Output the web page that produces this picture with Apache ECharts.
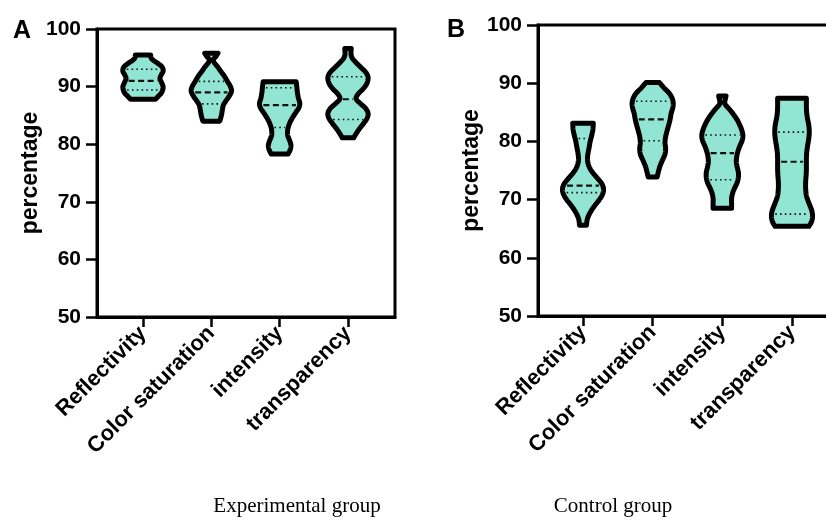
<!DOCTYPE html>
<html>
<head>
<meta charset="utf-8">
<script src="https://cdn.jsdelivr.net/npm/echarts@6/dist/echarts.min.js"></script>
<style>
html,body{margin:0;padding:0;background:#fff;}
#chart{width:826px;height:530px;}
</style>
</head>
<body>
<div id="chart"></div>
<script>
// ---- data ----
const categories = ['Reflectivity', 'Color saturation', 'intensity', 'transparency'];
const yMin = 50, yMax = 100, yStep = 10;

// Violin outlines: [value, relative density (max = 1)], from min to max
const expReflectivity = [[87.8,0.62],[88.4,0.78],[89.0,0.93],[89.9,1.0],[90.7,0.92],[91.4,0.84],[92.0,0.9],[92.7,1.0],[93.4,0.95],[94.0,0.75],[94.6,0.5],[95.0,0.4],[95.5,0.38]];
const expColorSaturation = [[84.0,0.42],[85.0,0.5],[86.0,0.55],[86.8,0.6],[87.5,0.72],[88.3,0.88],[89.2,1.0],[90.0,0.95],[90.9,0.8],[91.8,0.65],[92.6,0.48],[93.4,0.32],[94.2,0.14],[94.7,0.1],[95.2,0.22],[95.8,0.33]];
const expIntensity = [[78.3,0.42],[79.0,0.52],[79.8,0.56],[80.6,0.5],[81.5,0.4],[82.5,0.4],[83.5,0.48],[84.5,0.62],[85.5,0.8],[86.3,0.95],[87.1,1.0],[88.0,0.93],[89.0,0.88],[90.0,0.85],[90.85,0.82]];
const expTransparency = [[81.1,0.28],[81.8,0.4],[82.6,0.55],[83.5,0.75],[84.4,0.93],[85.3,1.0],[86.2,0.88],[87.1,0.6],[87.9,0.4],[88.7,0.5],[89.6,0.75],[90.5,0.93],[91.5,1.0],[92.4,0.9],[93.3,0.65],[94.1,0.42],[94.9,0.22],[95.6,0.15],[96.6,0.16]];

const ctrlReflectivity = [[65.6,0.17],[66.5,0.2],[67.3,0.28],[68.2,0.42],[69.1,0.6],[70.0,0.8],[70.9,0.95],[71.8,1.0],[72.7,0.92],[73.6,0.72],[74.5,0.5],[75.4,0.33],[76.3,0.24],[77.2,0.22],[78.1,0.25],[79.0,0.3],[80.0,0.35],[81.0,0.42],[82.0,0.48],[83.1,0.5]];
const ctrlColorSaturation = [[73.9,0.22],[74.8,0.28],[75.8,0.36],[76.8,0.48],[77.8,0.6],[78.8,0.63],[79.8,0.6],[80.8,0.63],[81.8,0.7],[82.8,0.78],[83.8,0.85],[84.8,0.9],[85.8,0.98],[86.6,1.0],[87.4,0.95],[88.3,0.8],[89.2,0.55],[90.1,0.33]];
const ctrlIntensity = [[68.5,0.45],[69.3,0.45],[70.2,0.45],[71.1,0.5],[72.0,0.6],[72.9,0.72],[73.8,0.78],[74.7,0.78],[75.6,0.72],[76.5,0.68],[77.4,0.7],[78.3,0.76],[79.2,0.85],[80.1,0.96],[81.0,1.0],[81.9,0.95],[82.8,0.85],[83.7,0.72],[84.6,0.55],[85.5,0.35],[86.3,0.15],[86.8,0.12],[87.8,0.18]];
const ctrlTransparency = [[65.4,0.82],[66.2,0.95],[67.1,1.0],[68.0,0.97],[68.9,0.88],[69.8,0.78],[70.7,0.7],[71.6,0.67],[72.5,0.66],[73.4,0.67],[74.3,0.69],[75.2,0.7],[76.1,0.7],[77.0,0.7],[77.9,0.71],[78.8,0.74],[79.7,0.78],[80.6,0.82],[81.5,0.84],[82.4,0.83],[83.3,0.79],[84.2,0.74],[85.1,0.71],[86.0,0.7],[86.8,0.7],[87.4,0.7]];

// quartiles and medians
const expMedian = [91.0, 89.0, 86.8, 87.8];
const expQ1 = [89.4, 87.0, 82.9, 84.3];
const expQ3 = [93.0, 90.9, 89.8, 91.7];
const ctrlMedian = [72.4, 83.8, 78.0, 76.5];
const ctrlQ1 = [71.2, 80.1, 73.4, 67.5];
const ctrlQ3 = [80.5, 86.9, 81.1, 81.6];

const expProfiles = [expReflectivity, expColorSaturation, expIntensity, expTransparency];
const ctrlProfiles = [ctrlReflectivity, ctrlColorSaturation, ctrlIntensity, ctrlTransparency];

// ---- rendering ----
const FILL = '#93E5D3';
const MAX_HALF = 0.295; // half width of widest part, in category units

function densityAt(prof, v) {
  if (v <= prof[0][0]) return prof[0][1];
  for (let i = 1; i < prof.length; i++) {
    if (v <= prof[i][0]) {
      const a = prof[i - 1], b = prof[i];
      const t = (v - a[0]) / (b[0] - a[0]);
      return a[1] + t * (b[1] - a[1]);
    }
  }
  return prof[prof.length - 1][1];
}

function catmull(pts, steps) {
  const out = [];
  const n = pts.length;
  for (let i = 0; i < n - 1; i++) {
    const p0 = pts[Math.max(0, i - 1)], p1 = pts[i], p2 = pts[i + 1], p3 = pts[Math.min(n - 1, i + 2)];
    for (let s = 0; s < steps; s++) {
      const t = s / steps, t2 = t * t, t3 = t2 * t;
      const x = 0.5 * ((2 * p1[0]) + (-p0[0] + p2[0]) * t + (2 * p0[0] - 5 * p1[0] + 4 * p2[0] - p3[0]) * t2 + (-p0[0] + 3 * p1[0] - 3 * p2[0] + p3[0]) * t3);
      const y = 0.5 * ((2 * p1[1]) + (-p0[1] + p2[1]) * t + (2 * p0[1] - 5 * p1[1] + 4 * p2[1] - p3[1]) * t2 + (-p0[1] + 3 * p1[1] - 3 * p2[1] + p3[1]) * t3);
      out.push([x, y]);
    }
  }
  out.push(pts[n - 1]);
  return out;
}

function makeRenderer(profiles, medians, q1s, q3s) {
  return function (params, api) {
    const idx = api.value(0);
    const prof = profiles[idx];
    const right = prof.map(p => api.coord([idx + p[1] * MAX_HALF, p[0]]));
    const left = prof.map(p => api.coord([idx - p[1] * MAX_HALF, p[0]]));
    const r = catmull(right, 8);
    const l = catmull(left, 8).reverse();
    const pts = r.concat(l);
    const children = [{
      type: 'polygon',
      shape: { points: pts },
      style: { fill: FILL, stroke: '#000', lineWidth: 5, lineJoin: 'round' }
    }];
    const lines = [
      { v: q1s[idx], dash: [1.6, 3.2], w: 1.6 },
      { v: q3s[idx], dash: [1.6, 3.2], w: 1.6 },
      { v: medians[idx], dash: [6, 3.5], w: 2.2 }
    ];
    const c0 = api.coord([idx, 0])[0];
    lines.forEach(L => {
      const d = densityAt(prof, L.v);
      const px = api.coord([idx + d * MAX_HALF, L.v]);
      const half = Math.max(0, px[0] - c0 - 3.5);
      children.push({
        type: 'line',
        shape: { x1: c0 - half, y1: px[1], x2: c0 + half, y2: px[1] },
        style: { stroke: '#111', lineWidth: L.w, lineDash: L.dash }
      });
    });
    return { type: 'group', children: children };
  };
}

const FONT = 'Liberation Sans, Arial, sans-serif';

function xAxisCfg(gridIndex, min, max) {
  return {
    type: 'value', gridIndex: gridIndex, min: min, max: max,
    axisLine: { show: true, onZero: false, lineStyle: { color: '#000', width: 3 } },
    axisTick: { show: true, length: 10, customValues: [0, 1, 2, 3], lineStyle: { color: '#000', width: 2.5 } },
    axisLabel: {
      customValues: [0, 1, 2, 3], rotate: 45, margin: 13,
      formatter: v => categories[Math.round(v)],
      color: '#000', fontSize: 22, fontWeight: 'bold', fontFamily: FONT
    },
    splitLine: { show: false }
  };
}

function yAxisCfg(gridIndex) {
  return {
    type: 'value', gridIndex: gridIndex, min: yMin, max: yMax, interval: yStep,
    name: 'percentage', nameLocation: 'middle', nameGap: 54,
    nameTextStyle: { color: '#000', fontSize: 23, fontWeight: 'bold', fontFamily: FONT },
    axisLine: { show: true, onZero: false, lineStyle: { color: '#000', width: 3 } },
    axisTick: { show: true, length: 11, lineStyle: { color: '#000', width: 2.5 } },
    axisLabel: { margin: 16, color: '#000', fontSize: 21, fontWeight: 'bold', fontFamily: FONT },
    splitLine: { show: false }
  };
}

const chart = echarts.init(document.getElementById('chart'), null, { renderer: 'canvas' });
chart.setOption({
  animation: false,
  backgroundColor: '#fff',
  grid: [
    { left: 97, top: 29, width: 298, height: 288, outerBoundsMode: 'none', containLabel: false, show: true, borderColor: '#000', borderWidth: 3, backgroundColor: 'transparent' },
    { left: 538, top: 25, width: 299, height: 291, outerBoundsMode: 'none', containLabel: false, show: true, borderColor: '#000', borderWidth: 3, backgroundColor: 'transparent' }
  ],
  xAxis: [xAxisCfg(0, -0.673, 3.688), xAxisCfg(1, -0.646, 3.646)],
  yAxis: [yAxisCfg(0), yAxisCfg(1)],
  series: [
    {
      type: 'custom', xAxisIndex: 0, yAxisIndex: 0,
      renderItem: makeRenderer(expProfiles, expMedian, expQ1, expQ3),
      data: categories.map((c, i) => [i, expMedian[i]]),
      encode: { x: 0, y: 1 }
    },
    {
      type: 'custom', xAxisIndex: 1, yAxisIndex: 1,
      renderItem: makeRenderer(ctrlProfiles, ctrlMedian, ctrlQ1, ctrlQ3),
      data: categories.map((c, i) => [i, ctrlMedian[i]]),
      encode: { x: 0, y: 1 }
    }
  ],
  graphic: [
    { type: 'text', x: 22, y: 31, style: { text: 'A', fill: '#000', font: 'bold 25px ' + FONT, textAlign: 'center', textVerticalAlign: 'middle' } },
    { type: 'text', x: 456, y: 30, style: { text: 'B', fill: '#000', font: 'bold 25px ' + FONT, textAlign: 'center', textVerticalAlign: 'middle' } },
    { type: 'text', x: 297, y: 506, style: { text: 'Experimental group', fill: '#000', font: '21px "Liberation Serif", "Times New Roman", serif', textAlign: 'center', textVerticalAlign: 'middle' } },
    { type: 'text', x: 613, y: 506, style: { text: 'Control group', fill: '#000', font: '21px "Liberation Serif", "Times New Roman", serif', textAlign: 'center', textVerticalAlign: 'middle' } }
  ]
});
</script>
</body>
</html>
